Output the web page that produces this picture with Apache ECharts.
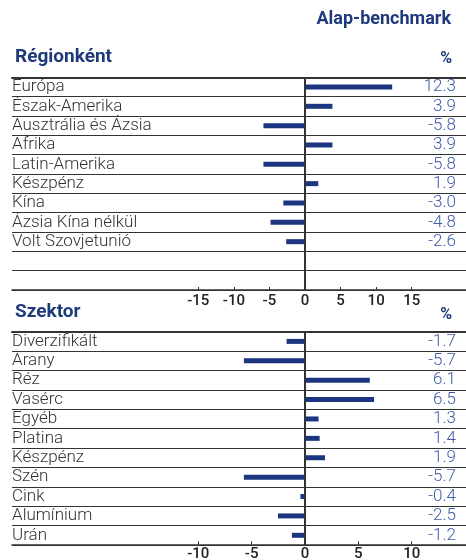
<!DOCTYPE html>
<html>
<head>
<meta charset="utf-8">
<script src="https://cdn.jsdelivr.net/npm/echarts@6/dist/echarts.min.js"></script>
<style>
  html, body { margin: 0; padding: 0; background: #fff; }
  #chart { width: 466px; height: 560px; }
</style>
</head>
<body>
<div id="chart"></div>
<script>
// --- data ---
const regions = ['Európa', 'Észak-Amerika', 'Ausztrália és Ázsia', 'Afrika', 'Latin-Amerika', 'Készpénz', 'Kína', 'Ázsia Kína nélkül', 'Volt Szovjetunió', '', ''];
const regionValues = [12.3, 3.9, -5.8, 3.9, -5.8, 1.9, -3.0, -4.8, -2.6, null, null];
const sectors = ['Diverzifikált', 'Arany', 'Réz', 'Vasérc', 'Egyéb', 'Platina', 'Készpénz', 'Szén', 'Cink', 'Alumínium', 'Urán'];
const sectorValues = [-1.7, -5.7, 6.1, 6.5, 1.3, 1.4, 1.9, -5.7, -0.4, -2.5, -1.2];
const regionTicks = { min: -15, max: 15, step: 5 };
const sectorTicks = { min: -10, max: 10, step: 5 };

// --- style ---
const FONT = 'Roboto';
const C = { bar: '#1c3580', head: '#1e3a7b', val: '#3f5ba9', text: '#333', line: '#333' };
const fmt = v => (v == null ? '' : v.toFixed(1));

// zero at x=304.7, row area from x=12 to x=466
const X0 = 304.7, LEFT = 12, RIGHT = 466;
function range(pxPerUnit) {
  return { min: -(X0 - LEFT) / pxPerUnit, max: (RIGHT - X0) / pxPerUnit };
}
const rTop = range(106.7 / 15);
const rBot = range(106.7 / 10);

const chart = echarts.init(document.getElementById('chart'));

function panel(gi, cats, vals, r) {
  return {
    yAxes: [
      { type: 'category', gridIndex: gi, data: cats, inverse: true, position: 'left',
        axisLine: { show: false }, axisTick: { show: false },
        axisLabel: { interval: 0, inside: true, margin: 0, color: C.text, fontFamily: FONT, fontWeight: 300, fontSize: 17, padding: [5, 0, 0, 0] },
        splitLine: { show: true, interval: 0, lineStyle: { color: C.line, width: 1 } } },
      { type: 'category', gridIndex: gi, data: vals.map(fmt), inverse: true, position: 'right',
        axisLine: { show: false }, axisTick: { show: false },
        axisLabel: { interval: 0, inside: true, margin: 10, color: C.val, fontFamily: FONT, fontWeight: 300, fontSize: 17, padding: [5, 0, 0, 0] },
        splitLine: { show: false } },
    ],
    xAxes: [
      { type: 'value', gridIndex: gi, min: r.min, max: r.max, position: 'bottom',
        axisLine: { show: true, lineStyle: { color: C.line, width: 1.5 } },
        axisTick: { show: false }, axisLabel: { show: false }, splitLine: { show: false } },
      { type: 'value', gridIndex: gi, min: r.min, max: r.max, position: 'top',
        axisLine: { show: true, lineStyle: { color: C.line, width: 2 } },
        axisTick: { show: false }, axisLabel: { show: false }, splitLine: { show: false } },
    ],
  };
}

function tickAxis(gi, t, margin) {
  return {
    type: 'value', gridIndex: gi, min: t.min, max: t.max, interval: t.step, position: 'bottom',
    axisLine: { show: false },
    axisTick: { show: true, inside: true, length: 3, lineStyle: { color: C.line } },
    axisLabel: { color: '#222', fontFamily: FONT, fontWeight: 500, fontSize: 15, margin: margin },
    splitLine: { show: false },
  };
}

const pTop = panel(0, regions, regionValues, rTop);
const pBot = panel(1, sectors, sectorValues, rBot);

const headStyle = { color: C.head, fontFamily: FONT, fontWeight: 'bold', fontSize: 19 };

chart.setOption({
  animation: false,
  title: [
    { text: 'Alap-benchmark', right: 10, top: 5, textStyle: { ...headStyle, fontSize: 18 } },
    { text: 'Régionként', left: 10, top: 43, textStyle: headStyle },
    { text: '%', right: 9, top: 46, textStyle: { ...headStyle, fontSize: 16 } },
    { text: 'Szektor', left: 10, top: 298, textStyle: headStyle },
    { text: '%', right: 9, top: 302, textStyle: { ...headStyle, fontSize: 16 } },
  ],
  grid: [
    { left: LEFT, right: 0, top: 77.3, height: 212.7 },
    { left: LEFT, right: 0, top: 331.7, height: 213.3 },
    { left: 198.3, width: 213.4, top: 289, height: 1 },
    { left: 198.3, width: 213.4, top: 544, height: 1 },
  ],
  xAxis: [
    ...pTop.xAxes, ...pBot.xAxes,
    tickAxis(2, regionTicks, 4),
    tickAxis(3, sectorTicks, 2),
  ],
  yAxis: [
    ...pTop.yAxes, ...pBot.yAxes,
    { type: 'value', gridIndex: 2, show: false },
    { type: 'value', gridIndex: 3, show: false },
  ],
  series: [
    { type: 'bar', xAxisIndex: 0, yAxisIndex: 0, data: regionValues, barWidth: 5,
      itemStyle: { color: C.bar },
      markLine: { silent: true, symbol: 'none', label: { show: false },
        lineStyle: { color: C.line, width: 2, type: 'solid' }, data: [{ xAxis: 0 }] } },
    { type: 'bar', xAxisIndex: 2, yAxisIndex: 2, data: sectorValues, barWidth: 5,
      itemStyle: { color: C.bar },
      markLine: { silent: true, symbol: 'none', label: { show: false },
        lineStyle: { color: C.line, width: 2, type: 'solid' }, data: [{ xAxis: 0 }] } },
  ],
});
</script>
</body>
</html>
